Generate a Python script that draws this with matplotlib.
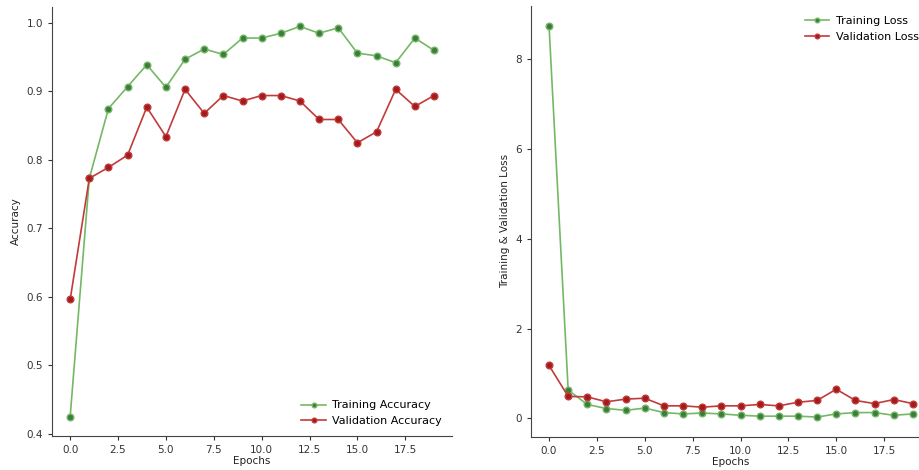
import numpy as np
import matplotlib
matplotlib.use('Agg')
import matplotlib.pyplot as plt

epochs = list(range(20))

train_acc = [0.425, 0.773, 0.875, 0.907, 0.939, 0.906, 0.947, 0.962, 0.954, 0.978,
             0.978, 0.985, 0.995, 0.985, 0.993, 0.956, 0.952, 0.942, 0.978, 0.960]
val_acc = [0.596, 0.773, 0.789, 0.807, 0.877, 0.834, 0.903, 0.868, 0.894, 0.886,
           0.894, 0.894, 0.886, 0.859, 0.859, 0.825, 0.841, 0.903, 0.878, 0.894]

train_loss = [8.75, 0.63, 0.31, 0.22, 0.18, 0.23, 0.13, 0.10, 0.12, 0.10,
              0.07, 0.05, 0.05, 0.05, 0.03, 0.10, 0.13, 0.13, 0.07, 0.10]
val_loss = [1.18, 0.49, 0.48, 0.37, 0.43, 0.45, 0.28, 0.28, 0.25, 0.28,
            0.28, 0.31, 0.28, 0.36, 0.40, 0.65, 0.40, 0.33, 0.42, 0.33]

GREEN_LINE = '#74b866'
GREEN_MARK = '#3c7d3c'
RED_LINE = '#c23b3b'
RED_MARK = '#a31b1b'

plt.rcParams['font.size'] = 7.5

fig = plt.figure(figsize=(9.2, 4.7), dpi=100)
ax1 = fig.add_axes([0.0565, 0.0723, 0.435, 0.913])
ax2 = fig.add_axes([0.577, 0.071, 0.435, 0.916])


def draw(ax, tr, va, labels, ylabel):
    ax.plot(epochs, tr, '-o', color=GREEN_LINE, markerfacecolor=GREEN_MARK,
            markeredgecolor=GREEN_LINE, markersize=4.8, linewidth=1.2, label=labels[0])
    ax.plot(epochs, va, '-o', color=RED_LINE, markerfacecolor=RED_MARK,
            markeredgecolor=RED_LINE, markersize=4.8, linewidth=1.2, label=labels[1])
    ax.spines['top'].set_visible(False)
    ax.spines['right'].set_visible(False)
    for s in ['left', 'bottom']:
        ax.spines[s].set_color('#444444')
    ax.tick_params(colors='#333333', length=3, labelsize=7.5)
    ax.set_xlabel('Epochs', labelpad=1, color='#222222')
    ax.set_ylabel(ylabel, color='#222222')


draw(ax1, train_acc, val_acc, ['Training Accuracy', 'Validation Accuracy'], 'Accuracy')
draw(ax2, train_loss, val_loss, ['Training Loss', 'Validation Loss'], 'Training & Validation Loss')

ax1.legend(loc='lower right', frameon=False, fontsize=8, handlelength=2.2,
           markerscale=0.7, handletextpad=0.6, bbox_to_anchor=(1.0, 0.0))
ax2.legend(loc='upper right', frameon=False, fontsize=8, handlelength=2.2,
           markerscale=0.7, handletextpad=0.6, bbox_to_anchor=(0.995, 1.0))

fig.savefig('out.png', dpi=100)
